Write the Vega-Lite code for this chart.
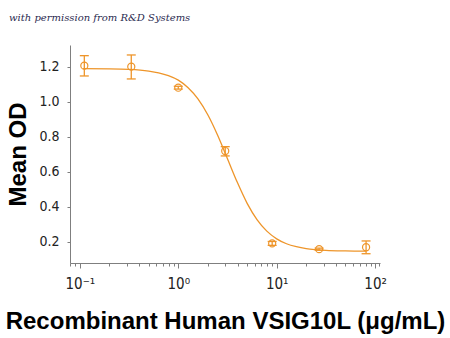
{
  "$schema": "https://vega.github.io/schema/vega-lite/v6.json",
  "autosize": {"type": "none"},
  "padding": {"left": 70, "top": 45, "right": 70, "bottom": 75},
  "width": 310,
  "height": 218,
  "background": "white",
  "title": {
    "text": "with permission from R&D Systems",
    "anchor": "start",
    "frame": "group",
    "dx": -61,
    "offset": 22,
    "font": "DejaVu Serif",
    "fontStyle": "italic",
    "fontWeight": "normal",
    "fontSize": 10,
    "color": "#2a2a50"
  },
  "config": {
    "view": {"stroke": null},
    "axis": {"grid": false, "domainColor": "#7f7f7f", "tickColor": "#7f7f7f", "labelColor": "#222", "titleColor": "#000"}
  },
  "datasets": {
    "pts": [
      {"conc": 0.111, "od": 1.206, "lo": 1.147, "hi": 1.263},
      {"conc": 0.333, "od": 1.200, "lo": 1.130, "hi": 1.267},
      {"conc": 1.0, "od": 1.080, "lo": 1.072, "hi": 1.088},
      {"conc": 3.0, "od": 0.718, "lo": 0.690, "hi": 0.743},
      {"conc": 9.0, "od": 0.190, "lo": 0.179, "hi": 0.201},
      {"conc": 27.0, "od": 0.157, "lo": 0.151, "hi": 0.163},
      {"conc": 81.0, "od": 0.168, "lo": 0.131, "hi": 0.204}
    ],
    "curve": [
      {"conc": 0.108, "od": 1.189},
      {"conc": 0.2, "od": 1.188},
      {"conc": 0.316, "od": 1.185},
      {"conc": 0.501, "od": 1.175},
      {"conc": 0.631, "od": 1.165},
      {"conc": 0.794, "od": 1.149},
      {"conc": 1.0, "od": 1.123},
      {"conc": 1.259, "od": 1.080},
      {"conc": 1.585, "od": 1.016},
      {"conc": 1.995, "od": 0.925},
      {"conc": 2.512, "od": 0.808},
      {"conc": 3.162, "od": 0.674},
      {"conc": 3.981, "od": 0.539},
      {"conc": 5.012, "od": 0.419},
      {"conc": 6.31, "od": 0.326},
      {"conc": 7.943, "od": 0.260},
      {"conc": 10.0, "od": 0.216},
      {"conc": 12.59, "od": 0.188},
      {"conc": 15.85, "od": 0.171},
      {"conc": 19.95, "od": 0.160},
      {"conc": 25.12, "od": 0.154},
      {"conc": 31.62, "od": 0.150},
      {"conc": 50.1, "od": 0.147},
      {"conc": 81.0, "od": 0.146}
    ],
    "minor": [
      {"v": 0.08}, {"v": 0.09},
      {"v": 0.2}, {"v": 0.3}, {"v": 0.4}, {"v": 0.5}, {"v": 0.6}, {"v": 0.7}, {"v": 0.8}, {"v": 0.9},
      {"v": 2}, {"v": 3}, {"v": 4}, {"v": 5}, {"v": 6}, {"v": 7}, {"v": 8}, {"v": 9},
      {"v": 20}, {"v": 30}, {"v": 40}, {"v": 50}, {"v": 60}, {"v": 70}, {"v": 80}, {"v": 90}, {"v": 110}
    ]
  },
  "layer": [
    {
      "data": {"name": "curve"},
      "mark": {"type": "line", "color": "#EE952A", "strokeWidth": 1.3, "interpolate": "monotone"},
      "encoding": {
        "x": {
          "field": "conc", "type": "quantitative",
          "scale": {"type": "log", "domain": [0.0794, 112.2], "nice": false},
          "axis": {
            "orient": "bottom",
            "values": [0.1, 1, 10, 100],
            "labelExpr": "datum.value < 0.5 ? '10⁻¹' : datum.value < 5 ? '10⁰' : datum.value < 50 ? '10¹' : '10²'",
            "labelFont": "DejaVu Sans Condensed",
            "labelFontSize": 15,
            "labelPadding": 8,
            "tickSize": 5,
            "title": "Recombinant Human VSIG10L (μg/mL)",
            "titleFont": "Liberation Sans",
            "titleFontWeight": "bold",
            "titleFontSize": 24,
            "titlePadding": 18
          }
        },
        "y": {
          "field": "od", "type": "quantitative",
          "scale": {"domain": [0.078, 1.324], "nice": false, "zero": false},
          "axis": {
            "values": [0.2, 0.4, 0.6, 0.8, 1.0, 1.2],
            "format": ".1f",
            "labelFont": "DejaVu Sans Condensed",
            "labelFontSize": 14,
            "labelPadding": 8,
            "tickSize": 3,
            "title": "Mean OD",
            "titleFont": "Liberation Sans",
            "titleFontWeight": "bold",
            "titleFontSize": 24,
            "titlePadding": 8
          }
        }
      }
    },
    {
      "data": {"name": "minor"},
      "mark": {"type": "tick", "opacity": 0},
      "encoding": {
        "x": {
          "field": "v", "type": "quantitative",
          "axis": {
            "orient": "bottom",
            "values": [0.08, 0.09, 0.2, 0.3, 0.4, 0.5, 0.6, 0.7, 0.8, 0.9, 2, 3, 4, 5, 6, 7, 8, 9, 20, 30, 40, 50, 60, 70, 80, 90, 110],
            "labels": false,
            "domain": false,
            "tickSize": 3,
            "title": null
          }
        }
      }
    },
    {
      "data": {"name": "pts"},
      "mark": {"type": "rule", "color": "#EE952A", "strokeWidth": 1.3},
      "encoding": {
        "x": {"field": "conc", "type": "quantitative", "axis": null},
        "y": {"field": "lo", "type": "quantitative"},
        "y2": {"field": "hi"}
      }
    },
    {
      "data": {"name": "pts"},
      "mark": {"type": "tick", "orient": "horizontal", "color": "#EE952A", "size": 9, "thickness": 1.3, "opacity": 1},
      "encoding": {
        "x": {"field": "conc", "type": "quantitative", "axis": null},
        "y": {"field": "lo", "type": "quantitative"}
      }
    },
    {
      "data": {"name": "pts"},
      "mark": {"type": "tick", "orient": "horizontal", "color": "#EE952A", "size": 9, "thickness": 1.3, "opacity": 1},
      "encoding": {
        "x": {"field": "conc", "type": "quantitative", "axis": null},
        "y": {"field": "hi", "type": "quantitative"}
      }
    },
    {
      "data": {"name": "pts"},
      "mark": {"type": "point", "shape": "circle", "filled": false, "color": "#EE952A", "size": 50, "strokeWidth": 1.2, "opacity": 1},
      "encoding": {
        "x": {"field": "conc", "type": "quantitative", "axis": null},
        "y": {"field": "od", "type": "quantitative"}
      }
    }
  ],
  "resolve": {"axis": {"x": "independent"}}
}
